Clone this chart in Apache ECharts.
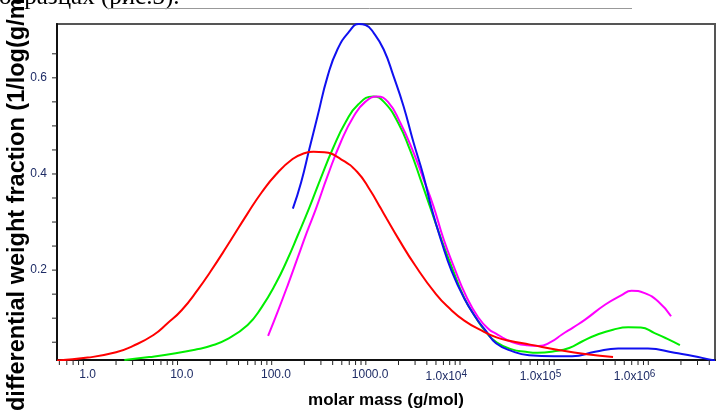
<!DOCTYPE html>
<html><head><meta charset="utf-8">
<script src="https://cdn.jsdelivr.net/npm/echarts@6/dist/echarts.min.js"></script>
<style>html,body{margin:0;padding:0;background:#fff;overflow:hidden}#c{width:718px;height:414px}</style>
</head><body><div id="c"></div><script>
// ---- data (molar mass in g/mol, differential weight fraction) ----
const redM = [0.472, 1, 2, 3, 5, 7, 10, 15, 20, 30, 50, 70, 100, 150, 200, 250, 326, 487, 730, 1000, 1283, 1500, 2000, 3000, 5000, 7000, 10000, 15000, 22000, 30000, 50000, 100000, 200000, 380000];
const redW = [0.012, 0.018, 0.029, 0.042, 0.065, 0.089, 0.117, 0.161, 0.196, 0.249, 0.318, 0.361, 0.399, 0.431, 0.443, 0.446, 0.445, 0.431, 0.404, 0.366, 0.330, 0.307, 0.265, 0.210, 0.150, 0.120, 0.095, 0.075, 0.060, 0.053, 0.045, 0.034, 0.025, 0.019];

const greenM = [2.45, 4.5, 8.6, 15, 20, 30, 50, 70, 100, 130, 170, 226, 300, 400, 550, 750, 1076, 1400, 2000, 2650, 3400, 4300, 5700, 7500, 10000, 13000, 17000, 22000, 32000, 45000, 60000, 90000, 130000, 180000, 260000, 380000, 550000, 750000, 1050000, 1400000, 1950000];
const greenW = [0.013, 0.019, 0.027, 0.036, 0.042, 0.056, 0.086, 0.122, 0.173, 0.219, 0.272, 0.330, 0.392, 0.452, 0.508, 0.545, 0.561, 0.550, 0.505, 0.450, 0.391, 0.333, 0.264, 0.202, 0.142, 0.104, 0.071, 0.050, 0.035, 0.030, 0.028, 0.031, 0.038, 0.052, 0.066, 0.076, 0.081, 0.0805, 0.069, 0.058, 0.044];

const magentaM = [82.4, 105, 134, 170, 212, 266, 353, 487, 674, 886, 1185, 1546, 2084, 2884, 3675, 4685, 6010, 7850, 10500, 14030, 18460, 21700, 27700, 35300, 46600, 62100, 82400, 109000, 144000, 192000, 312000, 469000, 597000, 824000, 1140000, 1570000];
const magentaW = [0.063, 0.115, 0.170, 0.226, 0.278, 0.328, 0.396, 0.466, 0.521, 0.550, 0.561, 0.550, 0.507, 0.445, 0.390, 0.334, 0.265, 0.204, 0.145, 0.102, 0.076, 0.068, 0.056, 0.048, 0.0435, 0.042, 0.050, 0.066, 0.081, 0.097, 0.128, 0.148, 0.157, 0.152, 0.135, 0.104];

const blueM = [151, 185, 226, 277, 353, 449, 597, 760, 893, 1094, 1393, 1775, 2263, 2884, 3675, 4496, 5730, 7300, 10000, 13380, 17050, 21700, 32560, 48700, 90000, 139400, 245000, 431000, 893000, 1710000, 2770000, 3980000, 4600000];
const blueW = [0.328, 0.383, 0.452, 0.521, 0.603, 0.659, 0.696, 0.712, 0.710, 0.693, 0.659, 0.603, 0.541, 0.466, 0.397, 0.328, 0.259, 0.199, 0.141, 0.100, 0.073, 0.048, 0.031, 0.023, 0.021, 0.021, 0.030, 0.037, 0.037, 0.028, 0.021, 0.014, 0.012];

// ---- axis ticks / labels ----
const xTickValues = [1, 10, 100, 1000, 1e4, 1e5, 1e6];
const xTickLabels = ['1.0', '10.0', '100.0', '1000.0', '1.0x10^4', '1.0x10^5', '1.0x10^6'];
const yTickValues = [0.2, 0.4, 0.6];
const yTickLabels = ['0.2', '0.4', '0.6'];
const yMinorTicks = [0.05, 0.10, 0.15, 0.20, 0.25, 0.30, 0.35, 0.40, 0.45, 0.50, 0.55, 0.60, 0.65];

const X_MIN = 0.472, X_MAX = 4.6e6, Y_MIN = 0.013, Y_MAX = 0.712;
const labelFont = "'Liberation Sans',Arial,sans-serif";
const labelColor = '#1e2c66';

function zip(a, b) { return a.map((v, i) => [v, b[i]]); }

// minor x ticks (2..9 per decade)
const xMinor = [];
for (let d = -1; d <= 6; d++) {
  for (let k = 2; k <= 9; k++) {
    const v = k * Math.pow(10, d);
    if (v > X_MIN && v < X_MAX) xMinor.push([v, Y_MIN]);
  }
}
const yMinor = yMinorTicks.map(v => [X_MIN, v]);

function tickSeries(data, dir) {
  return {
    type: 'custom', silent: true, clip: false, z: 5, data,
    renderItem(params, api) {
      const p = api.coord([api.value(0), api.value(1)]);
      const shape = dir === 'x'
        ? { x1: p[0], y1: p[1], x2: p[0], y2: p[1] + 5 }
        : { x1: p[0] - 5, y1: p[1], x2: p[0], y2: p[1] };
      return { type: 'line', shape, style: { stroke: '#222', lineWidth: 1 } };
    }
  };
}

function lineSeries(name, m, w, color, z) {
  return {
    name, type: 'line', data: zip(m, w), showSymbol: false, smooth: 0.5, z,
    lineStyle: { color, width: 2 }, itemStyle: { color }
  };
}

const chart = echarts.init(document.getElementById('c'), null, { renderer: 'canvas' });
chart.setOption({
  animation: false,
  backgroundColor: '#ffffff',
  grid: { left: 57, right: -2, top: 24, bottom: 52, show: true, borderColor: '#555', borderWidth: 2, backgroundColor: 'transparent' },
  xAxis: {
    type: 'log', logBase: 10, min: X_MIN, max: X_MAX, splitNumber: 8,
    axisLine: { lineStyle: { color: '#111', width: 2 } },
    axisTick: { show: false }, splitLine: { show: false },
    axisLabel: {
      margin: 9, color: labelColor, fontFamily: labelFont, fontSize: 12,
      formatter(v) {
        const i = xTickValues.findIndex(t => Math.abs(Math.log10(t) - Math.log10(v)) < 1e-6);
        if (i < 0) return '';
        const s = xTickLabels[i];
        if (s.indexOf('^') >= 0) {
          const [b, e] = s.split('^');
          return '{b|' + b + '}{s|' + e + '}{pad| }';
        }
        return s;
      },
      rich: {
        b: { fontFamily: labelFont, fontSize: 12, color: labelColor },
        s: { fontFamily: labelFont, fontSize: 10, color: labelColor, verticalAlign: 'top', padding: [0, 0, 6, 0] },
        pad: { width: 36, fontSize: 12 }
      }
    },
    name: 'molar mass (g/mol)', nameLocation: 'middle', nameGap: 32,
    nameTextStyle: { color: '#000', fontWeight: 'bold', fontSize: 17, fontFamily: 'Liberation Sans, Arial, sans-serif' }
  },
  yAxis: {
    type: 'value', min: Y_MIN, max: Y_MAX,
    axisLine: { show: true, lineStyle: { color: '#111', width: 2 } },
    axisTick: { show: false }, splitLine: { show: false },
    axisLabel: {
      margin: 10, color: labelColor, fontFamily: labelFont, fontSize: 12,
      formatter(v) {
        const i = yTickValues.findIndex(t => Math.abs(t - v) < 1e-6);
        return i < 0 ? '' : yTickLabels[i];
      }
    }
  },
  graphic: [
    { type: 'text', left: -1, top: -15, silent: true,
      style: { text: 'образцах (рис.3).', font: '25px "Liberation Serif", "DejaVu Serif", serif', fill: '#000' } },
    { type: 'line', silent: true, shape: { x1: 107, y1: 8.5, x2: 632, y2: 8.5 }, style: { stroke: '#999', lineWidth: 1 } },
    { type: 'text', x: 18, y: 411, rotation: Math.PI / 2, silent: true,
      style: { text: 'differential weight fraction (1/log(g/mol))', font: 'bold 23.5px "Liberation Sans", Arial, sans-serif', fill: '#000', align: 'left', verticalAlign: 'middle' } }
  ],
  series: [
    tickSeries(xMinor, 'x'),
    tickSeries(yMinor, 'y'),
    lineSeries('green', greenM, greenW, '#00ee00', 2),
    lineSeries('magenta', magentaM, magentaW, '#ff00ff', 3),
    lineSeries('blue', blueM, blueW, '#1010f0', 4),
    lineSeries('red', redM, redW, '#ff0000', 5)
  ]
});
</script></body></html>
